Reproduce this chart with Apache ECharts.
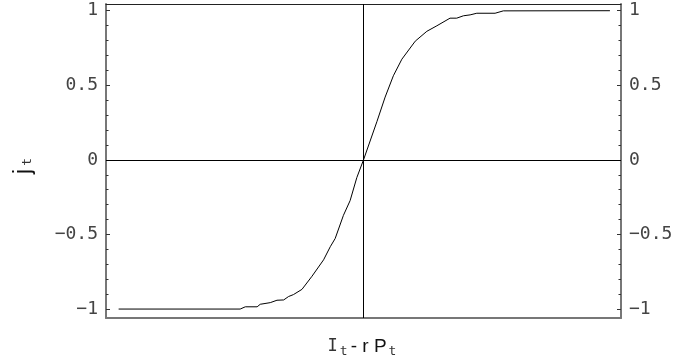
<!DOCTYPE html>
<html>
<head>
<meta charset="utf-8">
<script src="https://cdn.jsdelivr.net/npm/echarts@6/dist/echarts.min.js"></script>
<style>
html,body{margin:0;padding:0;background:#fff;}
#c{width:676px;height:363px;}
</style>
</head>
<body>
<div id="c"></div>
<script>
// Curve samples
var xValues = [-0.951, -0.479, -0.459, -0.413, -0.401, -0.362, -0.336, -0.310, -0.291, -0.272, -0.239, -0.200, -0.155, -0.129, -0.110, -0.078, -0.052, -0.026, 0.000, 0.052, 0.084, 0.116, 0.149, 0.201, 0.246, 0.285, 0.336, 0.362, 0.388, 0.414, 0.440, 0.511, 0.543, 0.957];
var yValues = [-1.000, -1.000, -0.985, -0.985, -0.968, -0.957, -0.941, -0.939, -0.916, -0.903, -0.868, -0.780, -0.670, -0.582, -0.527, -0.372, -0.273, -0.119, 0.000, 0.256, 0.421, 0.564, 0.675, 0.796, 0.862, 0.899, 0.950, 0.950, 0.966, 0.972, 0.983, 0.983, 0.999, 1.000];
var yTickValues = [-1, -0.5, 0, 0.5, 1];
var yMinorTickValues = [-0.9, -0.8, -0.7, -0.6, -0.4, -0.3, -0.2, -0.1, 0.1, 0.2, 0.3, 0.4, 0.6, 0.7, 0.8, 0.9];
var yMin = -1.06, yMax = 1.045;

var data = xValues.map(function (x, i) { return [x, yValues[i]]; });
var axisGray = '#777';
var labelFont = {fontFamily: 'DejaVu Sans Mono', fontSize: 18, color: '#444'};
function fmt(v) {
  return String(v).replace('-', '\u2212');
}
function majorAxis(pos, withName) {
  var a = {
    type: 'value', position: pos, min: yMin, max: yMax,
    axisLine: {show: true, onZero: false, lineStyle: {color: axisGray, width: 2}},
    axisTick: {show: true, inside: true, length: 4, customValues: yTickValues, lineStyle: {color: '#333', width: 1}},
    axisLabel: Object.assign({show: true, margin: 8, customValues: yTickValues, formatter: fmt}, labelFont),
    splitLine: {show: false}
  };
  if (withName) {
    a.name = '{j|j}{s|t}';
    a.nameLocation = 'middle';
    a.nameRotate = 90;
    a.nameGap = 71;
    a.nameTextStyle = {
      rich: {
        j: {fontFamily: 'Liberation Sans', fontSize: 23, color: '#111'},
        s: {fontFamily: 'DejaVu Sans Mono', fontSize: 13, color: '#333', padding: [9, 10, 0, 3]}
      }
    };
  }
  return a;
}
function minorAxis(pos) {
  return {
    type: 'value', position: pos, min: yMin, max: yMax,
    axisLine: {show: false, onZero: false},
    axisTick: {show: true, inside: true, length: 2.5, customValues: yMinorTickValues, lineStyle: {color: '#333', width: 1}},
    axisLabel: {show: false},
    splitLine: {show: false}
  };
}

var chart = echarts.init(document.getElementById('c'), null, {renderer: 'canvas'});
chart.setOption({
  animation: false,
  backgroundColor: '#fff',
  grid: {left: 106, right: 55, top: 4, bottom: 41, containLabel: false},
  xAxis: [
    {
      type: 'value', position: 'bottom', min: -1, max: 1,
      axisLine: {show: true, onZero: false, lineStyle: {color: axisGray, width: 2}},
      axisTick: {show: false}, axisLabel: {show: false}, splitLine: {show: false},
      name: '{i|I}{s|t}{m|- r P}{s|t}',
      nameLocation: 'middle', nameGap: 18,
      nameTextStyle: {
        rich: {
          i: {fontFamily: 'DejaVu Sans Mono', fontSize: 17, color: '#333'},
          m: {fontFamily: 'Liberation Sans', fontSize: 19, color: '#111'},
          s: {fontFamily: 'DejaVu Sans Mono', fontSize: 13, color: '#333', padding: [9, 3, 0, 2]}
        }
      }
    },
    {
      type: 'value', position: 'top', min: -1, max: 1,
      axisLine: {show: true, onZero: false, lineStyle: {color: '#222', width: 1}},
      axisTick: {show: false}, axisLabel: {show: false}, splitLine: {show: false}
    }
  ],
  yAxis: [majorAxis('left', true), minorAxis('left'), majorAxis('right', false), minorAxis('right')],
  series: [{
    type: 'line',
    data: data,
    xAxisIndex: 0, yAxisIndex: 0,
    showSymbol: false, symbol: 'none',
    lineStyle: {color: '#000', width: 1},
    markLine: {
      silent: true, symbol: 'none', label: {show: false},
      lineStyle: {color: '#000', width: 1, type: 'solid'},
      data: [{xAxis: 0}, {yAxis: 0}]
    }
  }]
});
</script>
</body>
</html>
